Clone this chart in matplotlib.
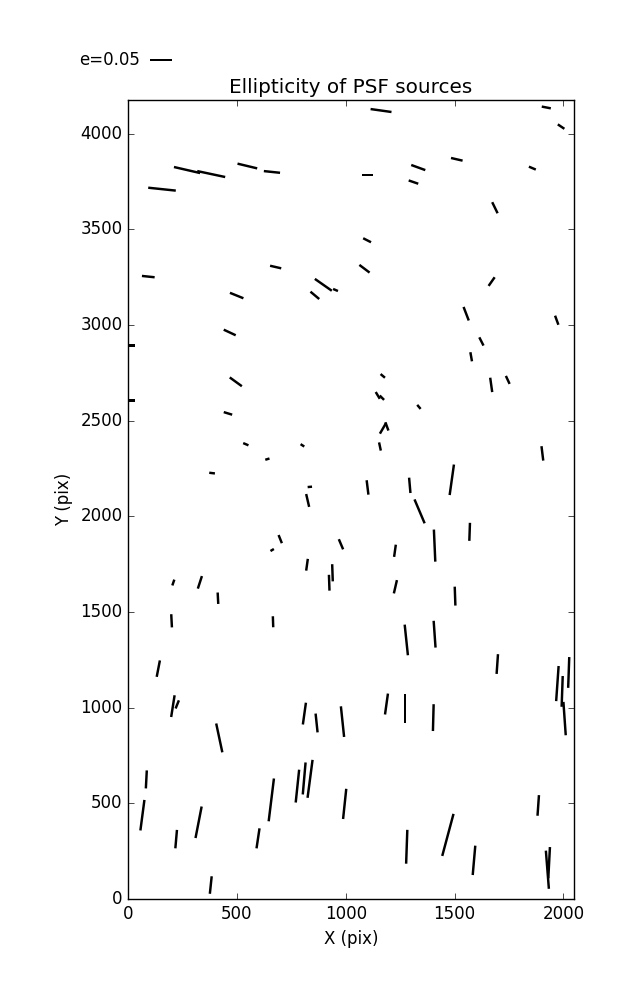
import numpy as np
import matplotlib
matplotlib.use('Agg')
import matplotlib.pyplot as plt

# source positions (pix), ellipticity and position angle (deg, on screen)
x = [156, 271, 382, 548, 661, 93, 678, 499, 897, 953, 858,
     1162, 1921, 1989, 1510, 1333, 1857, 1100, 1311, 1685, 1098, 1086, 1670,
     467, 17, 495, 17, 459, 541, 801, 640, 386, 835, 825,
     1553, 1969, 1623, 1576, 1668, 1744, 1170, 1147, 1166, 1336, 1171, 1189,
     1157, 1903, 1100, 1294, 1487, 1339,
     699, 662, 978, 822, 939, 924, 208, 330, 413, 200, 666, 139, 206, 226,
     1226, 1408, 1569, 1228, 1502, 1278, 1408, 1696, 1972, 2024, 1994, 2005,
     1187, 1271, 1402, 995, 1884, 1280, 1469, 1589, 1926, 1934,
     810, 866, 985, 419, 84, 66, 324, 221, 658, 778, 809, 836, 597, 380]
y = [3710, 3810, 3789, 3831, 3800, 3253, 3303, 3154, 3210, 3183, 3155,
     4121, 4137, 4037, 3866, 3823, 3820, 3784, 3747, 3613, 3443, 3294, 3227,
     2961, 2894, 2703, 2606, 2538, 2377, 2371, 2299, 2226, 2154, 2083,
     3059, 3025, 2914, 2834, 2687, 2713, 2734, 2632, 2620, 2572, 2460, 2470,
     2365, 2329, 2151, 2162, 2191, 2026,
     1881, 1824, 1854, 1747, 1705, 1653, 1654, 1655, 1572, 1454, 1449, 1204, 1008, 1017,
     1820, 1847, 1919, 1632, 1583, 1354, 1384, 1228, 1126, 1184, 1085, 943,
     1019, 995, 948, 497, 489, 273, 335, 202, 153, 190,
     969, 920, 927, 842, 625, 438, 401, 313, 518, 590, 630, 628, 317, 73]
e = [0.063, 0.061, 0.065, 0.046, 0.037, 0.029, 0.026, 0.033, 0.047, 0.012, 0.026,
     0.048, 0.021, 0.018, 0.027, 0.034, 0.017, 0.027, 0.023, 0.028, 0.020, 0.029, 0.024,
     0.030, 0.015, 0.034, 0.015, 0.020, 0.013, 0.010, 0.010, 0.013, 0.010, 0.030,
     0.033, 0.022, 0.021, 0.021, 0.033, 0.020, 0.013, 0.018, 0.014, 0.012, 0.028, 0.020,
     0.019, 0.033, 0.033, 0.035, 0.070, 0.059,
     0.020, 0.009, 0.025, 0.027, 0.039, 0.036, 0.014, 0.030, 0.026, 0.030, 0.025, 0.038, 0.050, 0.020,
     0.028, 0.073, 0.041, 0.031, 0.043, 0.070, 0.061, 0.045, 0.080, 0.070, 0.070, 0.076,
     0.048, 0.066, 0.061, 0.069, 0.047, 0.077, 0.099, 0.067, 0.087, 0.071,
     0.050, 0.043, 0.070, 0.067, 0.041, 0.070, 0.073, 0.042, 0.098, 0.075, 0.073, 0.087, 0.046, 0.040]
theta = [-6, -13, -12, -13.5, -6, -6, -13, -22, -35, -23, -40,
         -8, -11, -34, -13, -20, -23, 0, -19, -64, -27, -37, 55,
         -25, 0, -36, 0, -17, -23, -33, 17, -7, 5, -77,
         -69, -70, -63, -80, -82, -65, -40, -59, -45, -50, 60, -70,
         -78, -83, -83, -85, 82, -67,
         -68, 31, -67, 82, -88, -88, 71, 72, -87, -87, -88, 79, 81, 68,
         82, -87.5, 88, 77, -88, -84, -86, 86, 86, 88, 88, -86,
         82, 90, 88.5, 84, 86, 88, 75, 85, -85.5, 87,
         82, -84, -84, -78, 87, 82.5, 79, 85, 83, 84, 85, 82.5, 81.5, 84]

e_key = 0.05

plt.style.use('classic')
fig = plt.figure(figsize=(6.37, 10), dpi=100, facecolor='white')
ax = fig.add_axes([0.201, 0.101, 0.700, 0.799])

th = np.radians(theta)
u = np.array(e) * np.cos(th)
v = np.array(e) * np.sin(th)

q = ax.quiver(x, y, u, v, pivot='middle', headwidth=0, headlength=0,
              headaxislength=0, minlength=0, scale_units='width', scale=1.0136,
              width=0.0055, color='k')
ax.quiverkey(q, 0.2355, 0.94, e_key, 'e=0.05', coordinates='figure',
             labelpos='W', fontproperties={'size': 12})

ax.set_xlim(0, 2048)
ax.set_ylim(0, 4176)
ax.set_xticks(np.arange(0, 2001, 500))
ax.set_yticks(np.arange(0, 4001, 500))
ax.set_xlabel('X (pix)')
ax.set_ylabel('Y (pix)')
ax.set_title('Ellipticity of PSF sources')

fig.savefig('out.png', dpi=100, facecolor='white')
